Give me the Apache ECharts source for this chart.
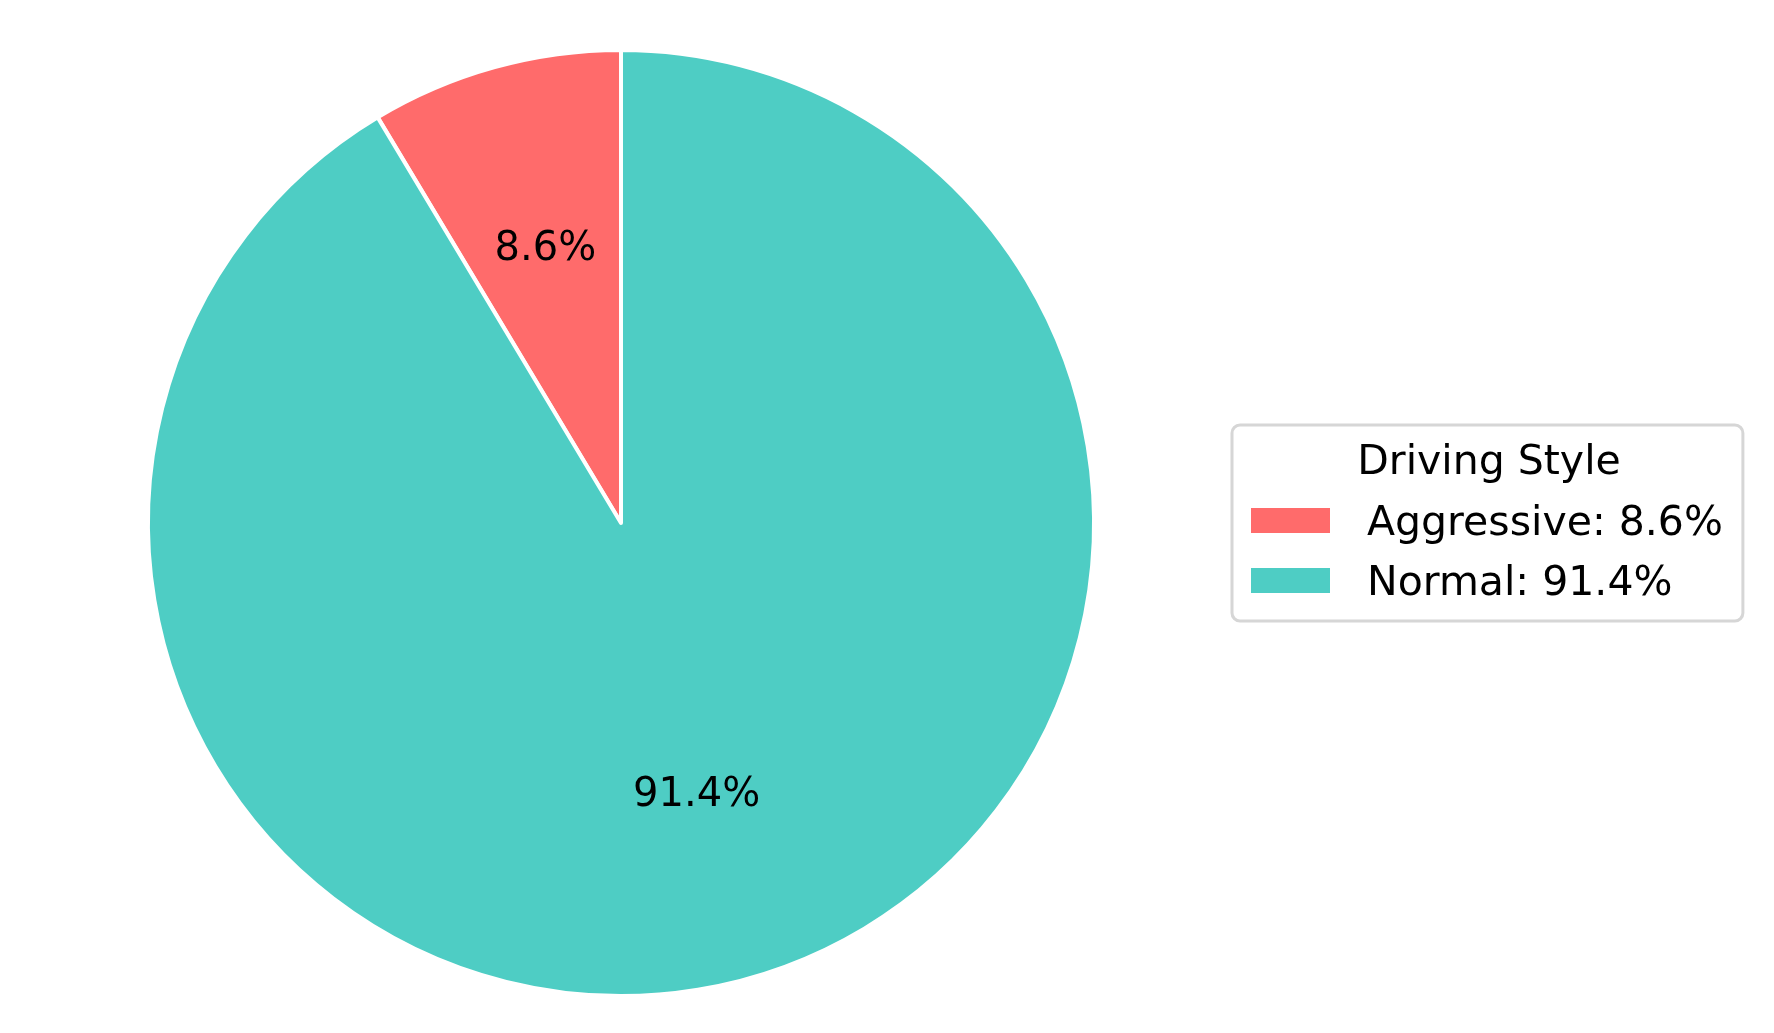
<!DOCTYPE html>
<html>
<head>
<meta charset="utf-8">
<style>
  html, body { margin: 0; padding: 0; background: #fff; }
  #chart { width: 1774px; height: 1033px; }
</style>
<script src="https://cdn.jsdelivr.net/npm/echarts@6/dist/echarts.min.js"></script>
</head>
<body>
<div id="chart"></div>
<script>
// driving style share (percent)
var styles = ['Aggressive', 'Normal']
var shares = [8.6, 91.4]
var colors = ['#FF6B6B', '#4ECDC4']

var font = 'DejaVu Sans'
var R = 473

var chart = echarts.init(document.getElementById('chart'))

var pieData = styles.map(function (name, i) {
  return { name: name, value: shares[i], itemStyle: { color: colors[i] } }
})

chart.setOption({
  animation: false,
  backgroundColor: '#ffffff',
  legend: {
    orient: 'vertical',
    left: 1232,
    top: 425,
    padding: [75, 20, 13, 19],
    itemWidth: 79,
    itemHeight: 32,
    itemGap: 12,
    // swatch sits in the upper part of the icon box so it lines up with the text
    icon: 'path://M0,0L79,0L79,25L0,25Z M0,32L79,32',
    itemStyle: { borderWidth: 0 },
    selectedMode: false,
    backgroundColor: '#ffffff',
    borderColor: '#d6d6d6',
    borderWidth: 3,
    borderRadius: 8,
    data: styles,
    textStyle: {
      fontFamily: font,
      fontSize: 41,
      lineHeight: 48,
      color: '#000',
      padding: [0, 0, 0, 32]
    },
    formatter: function (name) {
      var i = styles.indexOf(name)
      return name + ': ' + shares[i].toFixed(1) + '%'
    }
  },
  graphic: [{
    type: 'text',
    x: 1489,
    y: 463,
    z: 100,
    style: {
      text: 'Driving Style',
      fontFamily: font,
      fontSize: 41,
      fill: '#000',
      align: 'center',
      verticalAlign: 'middle'
    }
  }],
  series: [
    {
      type: 'pie',
      center: [621, 523],
      radius: [0, R],
      startAngle: 90,
      clockwise: false,
      silent: true,
      label: { show: false },
      labelLine: { show: false },
      itemStyle: { borderColor: '#ffffff', borderWidth: 4 },
      data: pieData
    },
    {
      // label-only ring so the text sits at about 0.6 of the radius
      type: 'pie',
      center: [621, 523],
      radius: [R * 0.2 - 7, R],
      startAngle: 90,
      clockwise: false,
      silent: true,
      itemStyle: { color: 'transparent', borderWidth: 0 },
      label: {
        show: true,
        position: 'inside',
        fontFamily: font,
        fontSize: 40,
        color: '#000',
        formatter: function (p) { return p.value.toFixed(1) + '%' }
      },
      labelLine: { show: false },
      data: styles.map(function (name, i) {
        return { name: name, value: shares[i] }
      })
    }
  ]
})
</script>
</body>
</html>
